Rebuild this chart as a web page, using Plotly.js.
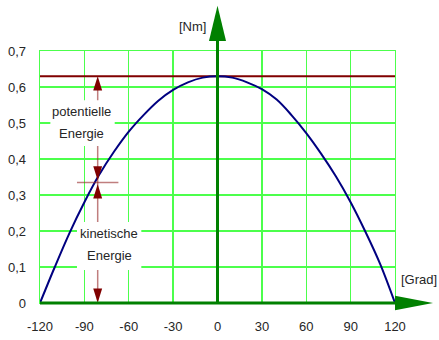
<!DOCTYPE html>
<html><head><meta charset="utf-8">
<script src="https://cdn.plot.ly/plotly-3.0.1.min.js"></script>
<style>html,body{margin:0;padding:0;background:#fff}#c{width:439px;height:340px}</style>
</head><body><div id="c"></div>
<script>
// Data
const angleDeg = [-120,-110,-100,-90,-80,-70,-60,-50,-40,-30,-20,-10,0,10,20,30,40,50,60,70,80,90,100,110,120];
const torqueNm = [0,0.1,0.195,0.28,0.356,0.42,0.476,0.522,0.562,0.592,0.613,0.626,0.63,0.626,0.613,0.594,0.565,0.522,0.472,0.415,0.352,0.28,0.198,0.108,0];
const maxLevel = 0.63;
const crossLevel = 0.335;
const arrowAngle = -81;
const xTickVals = [-120,-90,-60,-30,0,30,60,90,120];
const xTickText = ['-120','-90','-60','-30','0','30','60','90','120'];
const yTickVals = [0,0.1,0.2,0.3,0.4,0.5,0.6,0.7];
const yTickText = ['0','0,1','0,2','0,3','0,4','0,5','0,6','0,7'];
const potLines = ['potentielle','Energie'];
const kinLines = ['kinetische','Energie'];

const fam = 'Liberation Sans, Arial, sans-serif';
const font = {family:fam, size:13, color:'#262626'};
const tickFont = {family:fam, size:13, color:'#262626'};
const dark = '#800000';
const armCol = 'rgba(150,40,40,0.6)';
const axisGreen = '#008000';
const gridGreen = '#4cff4c';

const traces = [
  {x:[-120,120], y:[maxLevel,maxLevel], mode:'lines', line:{color:dark,width:2}, hoverinfo:'skip'},
  {x:angleDeg, y:torqueNm, mode:'lines', line:{color:'#000080',width:2,shape:'spline',smoothing:1}, hoverinfo:'skip'}
];

const hw = 3.0, hh = 0.04;
function tri(xc, tipY, dir){
  const b = tipY - dir*hh;
  return {type:'path', xref:'x', yref:'y', path:`M ${xc} ${tipY} L ${xc-hw} ${b} L ${xc+hw} ${b} Z`, fillcolor:dark, line:{width:0}};
}
const shapes = [
  {type:'line', xref:'x', yref:'y', x0:arrowAngle, x1:arrowAngle, y0:0.01, y1:maxLevel-0.01, line:{color:armCol,width:1.5}},
  {type:'line', xref:'x', yref:'y', x0:arrowAngle-14, x1:arrowAngle+14, y0:crossLevel, y1:crossLevel, line:{color:armCol,width:1.5}},
  {type:'rect', xref:'x', yref:'y', x0:-113, x1:-69.5, y0:0.436, y1:0.563, fillcolor:'#fff', line:{width:0}},
  {type:'rect', xref:'x', yref:'y', x0:-95, x1:-51.5, y0:0.092, y1:0.225, fillcolor:'#fff', line:{width:0}},
  tri(arrowAngle, maxLevel, 1),
  tri(arrowAngle, crossLevel+0.005, -1),
  tri(arrowAngle, crossLevel-0.005, 1),
  tri(arrowAngle, 0, -1),
  {type:'line', xref:'paper', yref:'paper', x0:0, x1:1.0, y0:0, y1:0, line:{color:axisGreen,width:3}},
  {type:'path', xref:'paper', yref:'paper', path:'M 1 0.029 L 1.107 0 L 1 -0.029 Z', fillcolor:axisGreen, line:{width:0}},
  {type:'line', xref:'paper', yref:'paper', x0:0.5, x1:0.5, y0:0, y1:1.04, line:{color:axisGreen,width:3}},
  {type:'path', xref:'paper', yref:'paper', path:'M 0.476 1.04 L 0.5 1.18 L 0.524 1.04 Z', fillcolor:axisGreen, line:{width:0}}
];

function lbl(x, y, t, xr, yr){ return {x:x, y:y, xref:xr||'x', yref:yr||'y', text:t, showarrow:false, xanchor:'center', yanchor:'middle', font:font}; }
const annotations = [
  lbl(-92, 0.5325, potLines[0]), lbl(-92, 0.4722, potLines[1]),
  lbl(-73.2, 0.1928, kinLines[0]), lbl(-73.2, 0.1325, kinLines[1]),
  lbl((192-40)/355, (302.7-26)/252, '[Nm]', 'paper', 'paper'),
  lbl((419-40)/355, (302.7-279)/252, '[Grad]', 'paper', 'paper')
];

const layout = {
  width:439, height:340,
  margin:{l:40, r:44, t:51, b:37},
  paper_bgcolor:'#fff', plot_bgcolor:'#fff',
  showlegend:false,
  font:font,
  xaxis:{range:[-120,120], tickvals:xTickVals, ticktext:xTickText, showgrid:true, gridcolor:gridGreen, gridwidth:1.3,
         zeroline:false, showline:true, mirror:true, linecolor:gridGreen, linewidth:1.3,
         ticks:'outside', ticklen:11, tickcolor:'rgba(0,0,0,0)', tickfont:tickFont, fixedrange:true},
  yaxis:{range:[0,0.7], tickvals:yTickVals, ticktext:yTickText, showgrid:true, gridcolor:gridGreen, gridwidth:1.3,
         zeroline:false, showline:true, mirror:true, linecolor:gridGreen, linewidth:1.3,
         ticks:'outside', ticklen:10, tickcolor:'rgba(0,0,0,0)', tickfont:tickFont, fixedrange:true},
  shapes:shapes,
  annotations:annotations
};
Plotly.newPlot('c', traces, layout, {displayModeBar:false, staticPlot:true});
</script>
</body></html>
